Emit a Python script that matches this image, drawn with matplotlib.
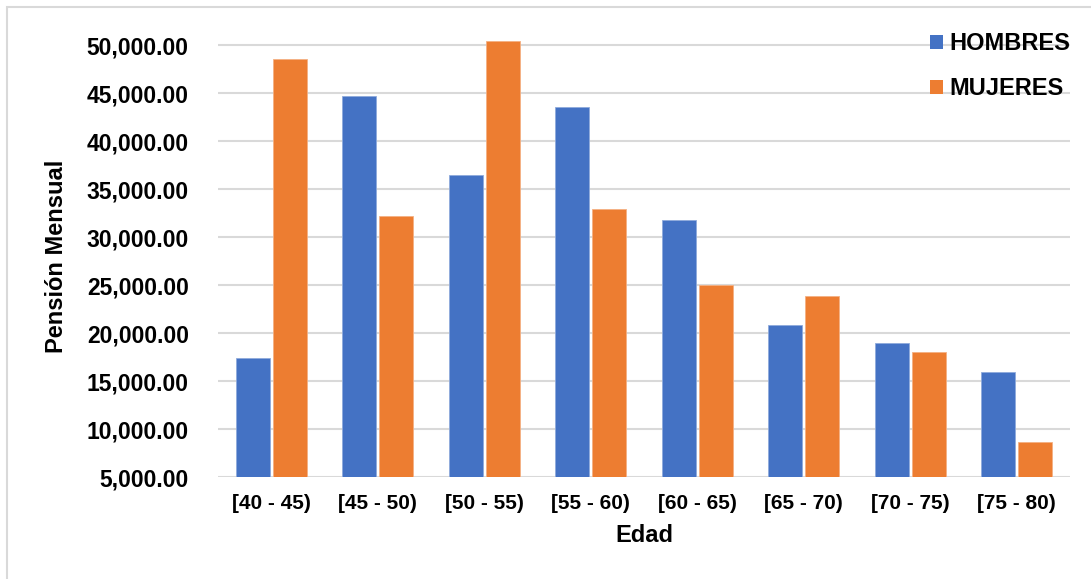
import numpy as np
import matplotlib
matplotlib.use('Agg')
import matplotlib.pyplot as plt
from matplotlib.patches import Patch, Rectangle

# data ==========================================================================
edades = ['[40 - 45)', '[45 - 50)', '[50 - 55)', '[55 - 60)',
          '[60 - 65)', '[65 - 70)', '[70 - 75)', '[75 - 80)']
hombres = [17400, 44650, 36450, 43550, 31750, 20800, 19000, 15970]
mujeres = [48500, 32150, 50400, 32900, 25050, 23850, 18000, 8600]
y_ticks = list(range(5000, 50001, 5000))

azul = '#4472C4'
naranja = '#ED7D31'

plt.rcParams['font.family'] = ['Liberation Sans', 'DejaVu Sans']
plt.rcParams['font.weight'] = 'bold'

W, H = 1091, 579
fig = plt.figure(figsize=(W / 100, H / 100), dpi=100)

# plot area in pixels
left, right, bottom_px, top_px = 218, 1070, 477, 35.4
ax = fig.add_axes([left / W, 1 - bottom_px / H, (right - left) / W, (bottom_px - top_px) / H])

x = np.arange(len(edades))
w = 0.32
off = 0.174
ax.bar(x - off, np.array(hombres) - 5000, w, bottom=5000, color=azul,
       edgecolor='#8FAADC', linewidth=0.6, zorder=3, label='HOMBRES')
ax.bar(x + off, np.array(mujeres) - 5000, w, bottom=5000, color=naranja,
       edgecolor='#F4B183', linewidth=0.6, zorder=3, label='MUJERES')

ax.set_xlim(-0.5, len(edades) - 0.5)
ax.set_ylim(5000, 51000)
ax.set_yticks(y_ticks)
ax.set_yticklabels([f'{v:,.2f}' for v in y_ticks], fontsize=16.5, fontweight='bold')
ax.set_xticks(x)
ax.set_xticklabels(edades, fontsize=15, fontweight='bold')
ax.tick_params(axis='y', length=0, pad=21)
ax.tick_params(axis='x', length=0, pad=12)

for v in y_ticks:
    ax.axhline(v, color='#D9D9D9', linewidth=1.5, zorder=1)
for s in ax.spines.values():
    s.set_visible(False)

ax.set_ylabel('Pensión Mensual', fontsize=17, fontweight='bold')
ax.yaxis.set_label_coords((68 - left) / (right - left), 0.5)
ax.set_xlabel('Edad', fontsize=17, fontweight='bold', labelpad=8)

handles = [Patch(facecolor=azul, label='HOMBRES'), Patch(facecolor=naranja, label='MUJERES')]
ax.legend(handles=handles, loc='upper left', bbox_to_anchor=(930 / W, 1 - 32 / H),
          bbox_transform=fig.transFigure, frameon=False, fontsize=17,
          handlelength=0.55, handleheight=0.55, handletextpad=0.25,
          labelspacing=0.95, borderaxespad=0, borderpad=0)

# chart border
fig.patches.append(Rectangle((7 / W, -0.1), 1.0, 1 - 7 / H + 0.1, transform=fig.transFigure,
                             fill=False, edgecolor='#D9D9D9', linewidth=1.5))

fig.savefig('out.png', dpi=100)
